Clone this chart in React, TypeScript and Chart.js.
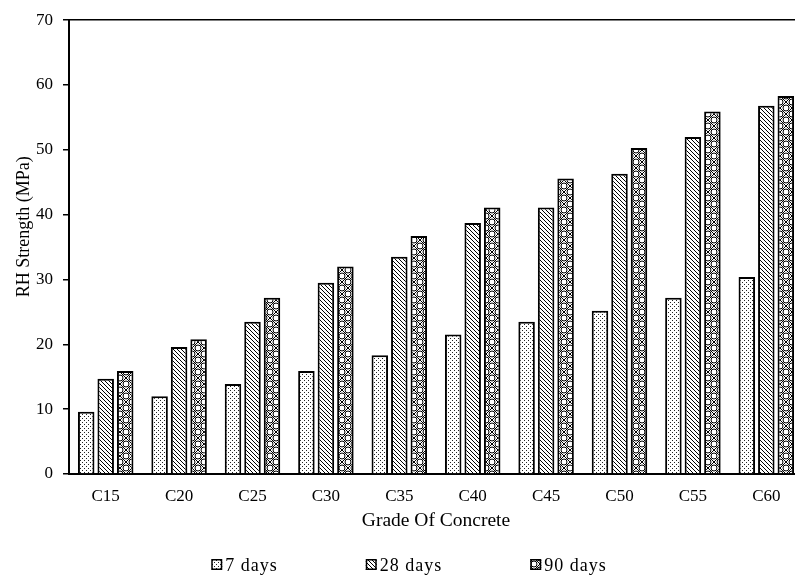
import React, { useEffect, useRef } from "react";
import { Chart, registerables } from "chart.js";

Chart.register(...registerables);

const categories = ["C15", "C20", "C25", "C30", "C35", "C40", "C45", "C50", "C55", "C60"];
const strength7 = [9.6, 12.0, 13.9, 15.9, 18.3, 21.5, 23.5, 25.2, 27.2, 30.4];
const strength28 = [14.7, 19.6, 23.5, 29.5, 33.5, 38.7, 41.1, 46.3, 52.0, 56.8];
const strength90 = [15.9, 20.8, 27.2, 32.0, 36.7, 41.1, 45.6, 50.3, 55.9, 58.3];
const seriesNames = ["7 days", "28 days", "90 days"];
const yMin = 0;
const yMax = 70;
const yStep = 10;
const xTitle = "Grade Of Concrete";
const yTitle = "RH Strength (MPa)";

const FONT = "'Liberation Serif', 'Times New Roman', serif";
const CANVAS_W = 832;
const CANVAS_H = 576;

function makePattern(kind: string): CanvasPattern {
  const c = document.createElement("canvas");
  const g = c.getContext("2d")!;
  if (kind === "dots") {
    c.width = 4;
    c.height = 4;
    g.fillStyle = "#fff";
    g.fillRect(0, 0, 4, 4);
    g.fillStyle = "#222";
    g.fillRect(0, 0, 1, 1);
    g.fillRect(2, 2, 1, 1);
  } else if (kind === "diag") {
    c.width = 4;
    c.height = 4;
    g.fillStyle = "#fff";
    g.fillRect(0, 0, 4, 4);
    g.strokeStyle = "#000";
    g.lineWidth = 1;
    g.beginPath();
    g.moveTo(-1, -1);
    g.lineTo(5, 5);
    g.moveTo(-1, 3);
    g.lineTo(1, 5);
    g.moveTo(3, -1);
    g.lineTo(5, 1);
    g.stroke();
  } else {
    const s = 12;
    c.width = s;
    c.height = s;
    g.fillStyle = "#fff";
    g.fillRect(0, 0, s, s);
    g.strokeStyle = "#000";
    g.lineWidth = 1;
    g.beginPath();
    g.moveTo(0, 0);
    g.lineTo(s, s);
    g.moveTo(s, 0);
    g.lineTo(0, s);
    g.stroke();
    const centers = [
      [s / 2, 0],
      [0, s / 2],
      [s, s / 2],
      [s / 2, s],
    ];
    for (const [cx, cy] of centers) {
      g.beginPath();
      g.arc(cx, cy, 3, 0, Math.PI * 2);
      g.stroke();
    }
  }
  return g.createPattern(c, "repeat")!;
}

const legendPlugin = {
  id: "patternLegend",
  afterDraw(chart: any) {
    const ctx = chart.ctx as CanvasRenderingContext2D;
    ctx.save();
    ctx.font = `18px ${FONT}`;
    (ctx as any).letterSpacing = "1px";
    const box = 11;
    const textGap = 3;
    const itemGap = 88;
    const ds = chart.data.datasets;
    const widths = ds.map((d: any) => box + textGap + ctx.measureText(d.label).width);
    const total = widths.reduce((a: number, b: number) => a + b, 0) + itemGap * (ds.length - 1);
    let x = 409 - total / 2;
    const boxTop = 559;
    const baseline = 571;
    ds.forEach((d: any, i: number) => {
      ctx.fillStyle = d.backgroundColor;
      ctx.fillRect(x, boxTop, box, box);
      ctx.strokeStyle = "#000";
      ctx.lineWidth = 1.5;
      ctx.strokeRect(x + 0.75, boxTop + 0.75, box - 1.5, box - 1.5);
      ctx.fillStyle = "#000";
      ctx.textBaseline = "alphabetic";
      ctx.textAlign = "left";
      ctx.fillText(d.label, x + box + textGap, baseline);
      x += widths[i] + itemGap;
    });
    ctx.restore();
  },
};

export default function App() {
  const canvasRef = useRef<HTMLCanvasElement | null>(null);

  useEffect(() => {
    const canvas = canvasRef.current;
    if (!canvas) return;
    const patterns = [makePattern("dots"), makePattern("diag"), makePattern("cross")];
    const values = [strength7, strength28, strength90];

    const chart = new Chart(canvas, {
      type: "bar",
      data: {
        labels: categories,
        datasets: seriesNames.map((name, i) => ({
          label: name,
          data: values[i],
          backgroundColor: patterns[i] as any,
          borderColor: "#000",
          borderWidth: 2,
          categoryPercentage: 0.797,
          barPercentage: 0.846,
        })),
      },
      options: {
        responsive: false,
        animation: false,
        devicePixelRatio: 1,
        layout: { padding: { top: 18, right: 29, bottom: 30, left: 0 } },
        plugins: {
          legend: { display: false },
          tooltip: { enabled: false },
        },
        scales: {
          x: {
            grid: { display: true, color: "transparent", drawTicks: false },
            border: { display: true, color: "#000", width: 2 },
            ticks: {
              color: "#000",
              font: { family: FONT, size: 17 },
              padding: 12,
              maxRotation: 0,
            },
            title: {
              display: true,
              text: xTitle,
              color: "#000",
              font: { family: FONT, size: 19.5 },
              padding: { top: 0, bottom: 13 },
            },
            afterFit(scale: any) {
              scale.height = 72;
            },
          },
          y: {
            min: yMin,
            max: yMax,
            ticks: {
              stepSize: yStep,
              color: "#000",
              font: { family: FONT, size: 17 },
              padding: 10,
            },
            grid: {
              display: true,
              color: (c: any) => (c.tick && c.tick.value === yMax ? "#000" : "transparent"),
              lineWidth: 1.5,
              drawTicks: true,
              tickLength: 6,
              tickColor: "#000",
              tickWidth: 1.5,
            },
            border: { display: true, color: "#000", width: 2 },
            title: {
              display: true,
              text: "         " + yTitle,
              color: "#000",
              font: { family: FONT, size: 18 },
              padding: { top: 13, bottom: 0 },
            },
            afterFit(scale: any) {
              scale.width = 69;
            },
          },
        },
      },
      plugins: [legendPlugin],
    });

    return () => {
      chart.destroy();
    };
  }, []);

  return (
    <div
      style={{
        position: "fixed",
        left: 0,
        top: 0,
        width: 795,
        height: 576,
        overflow: "hidden",
        background: "#fff",
      }}
    >
      <canvas
        ref={canvasRef}
        width={CANVAS_W}
        height={CANVAS_H}
        style={{ width: CANVAS_W, height: CANVAS_H, display: "block" }}
      />
    </div>
  );
}
